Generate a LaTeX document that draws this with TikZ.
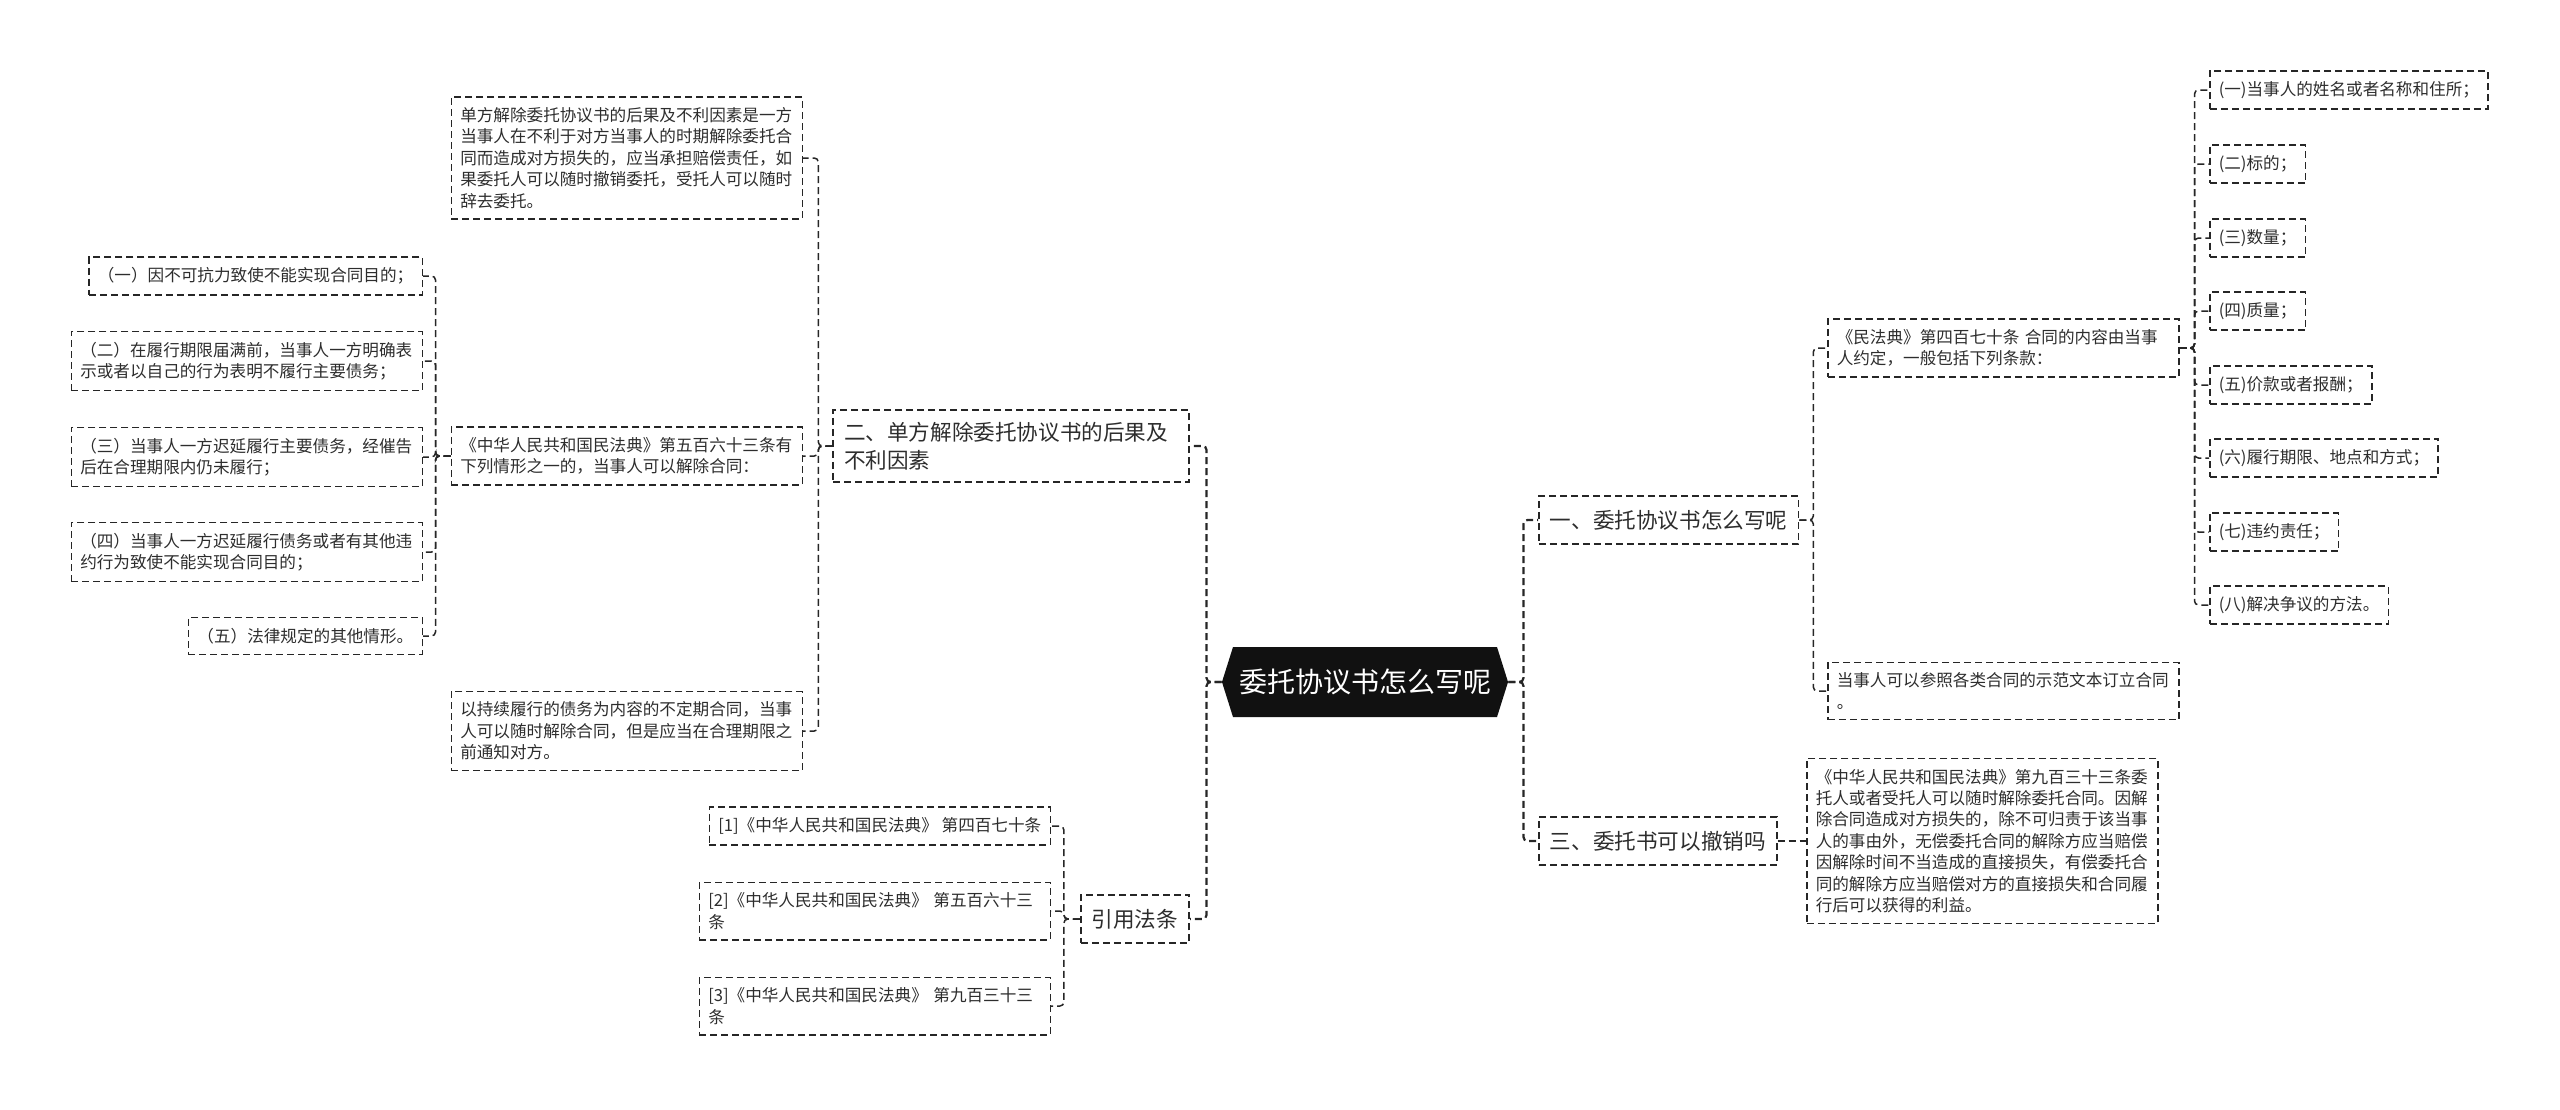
\documentclass[tikz,border=0pt]{standalone}
\usepackage{fontspec}
\setmainfont{Noto Sans CJK SC}
\usepackage{tikz}
\usetikzlibrary{shapes.symbols, positioning}
\usepackage{xcolor}
\definecolor{inkline}{RGB}{38,38,38}
\definecolor{inktext}{RGB}{45,45,45}
\definecolor{rootfill}{RGB}{17,17,17}

\begin{document}
\begin{tikzpicture}[
    x=0.5pt, y=-0.5pt,
    leaf/.style={draw=inkline, line width=0.75pt, dash pattern=on 3.5pt off 2pt,
                 inner xsep=4.5pt, inner ysep=5.2pt, minimum height=18.5pt,
                 align=left, text=inktext,
                 font=\fontsize{8.3pt}{10.7pt}\selectfont},
    para/.style={leaf, text width=#1},
    topic/.style={draw=inkline, line width=0.85pt, dash pattern=on 3.5pt off 2pt,
                  inner xsep=5.5pt, inner ysep=6pt, minimum height=24pt,
                  align=left, text=inktext,
                  font=\fontsize{10.8pt}{14pt}\selectfont},
    root/.style={signal, signal to=west and east, signal pointer angle=145,
                 fill=rootfill, text=white, inner xsep=3pt, minimum height=35pt,
                 font=\fontsize{14pt}{16pt}\selectfont},
    link/.style={draw=inkline, line width=0.75pt, dash pattern=on 3.5pt off 2pt,
                 rounded corners=2pt},
    trunk/.style={link, line width=1.1pt},
  ]
    \useasboundingbox (0,0) rectangle (2560,1109);

    \node[root] (root) at (1365,682) {委托协议书怎么写呢};

    % left branch
    \node[topic, text width=167pt, anchor=east] (unilat) at (1190,446) {二、单方解除委托协议书的后果及\\不利因素};
    \node[topic, anchor=east] (cite) at (1190,919) {引用法条};

    \node[para=166.5pt, anchor=east] (conseq) at (803,158) {单方解除委托协议书的后果及不利因素是一方\\当事人在不利于对方当事人的时期解除委托合\\同而造成对方损失的，应当承担赔偿责任，如\\果委托人可以随时撤销委托，受托人可以随时\\辞去委托。};
    \node[para=166.5pt, anchor=east] (art563) at (803,456) {《中华人民共和国民法典》第五百六十三条有\\下列情形之一的，当事人可以解除合同：};
    \node[para=166.5pt, anchor=east] (indef) at (803,731) {以持续履行的债务为内容的不定期合同，当事\\人可以随时解除合同，但是应当在合理期限之\\前通知对方。};

    \node[leaf, anchor=east] (ground1) at (423,276) {（一）因不可抗力致使不能实现合同目的；};
    \node[para=166.5pt, anchor=east] (ground2) at (423,361) {（二）在履行期限届满前，当事人一方明确表\\示或者以自己的行为表明不履行主要债务；};
    \node[para=166.5pt, anchor=east] (ground3) at (423,457) {（三）当事人一方迟延履行主要债务，经催告\\后在合理期限内仍未履行；};
    \node[para=166.5pt, anchor=east] (ground4) at (423,552) {（四）当事人一方迟延履行债务或者有其他违\\约行为致使不能实现合同目的；};
    \node[leaf, anchor=east] (ground5) at (423,636) {（五）法律规定的其他情形。};

    \node[leaf, anchor=east] (ref1) at (1051,826) {[1]《中华人民共和国民法典》 第四百七十条};
    \node[para=166.5pt, anchor=east] (ref2) at (1051,911) {[2]《中华人民共和国民法典》 第五百六十三\\条};
    \node[para=166.5pt, anchor=east] (ref3) at (1051,1006) {[3]《中华人民共和国民法典》 第九百三十三\\条};

    % right branch
    \node[topic, anchor=west] (howto) at (1538,520) {一、委托协议书怎么写呢};
    \node[topic, anchor=west] (revoke) at (1538,841) {三、委托书可以撤销吗};

    \node[para=166.5pt, anchor=west] (art470) at (1827,348) {《民法典》第四百七十条 合同的内容由当事\\人约定，一般包括下列条款：};
    \node[para=166.5pt, anchor=west] (model) at (1827,691) {当事人可以参照各类合同的示范文本订立合同\\。};
    \node[para=166.5pt, anchor=west] (art933) at (1806,841) {《中华人民共和国民法典》第九百三十三条委\\托人或者受托人可以随时解除委托合同。因解\\除合同造成对方损失的，除不可归责于该当事\\人的事由外，无偿委托合同的解除方应当赔偿\\因解除时间不当造成的直接损失，有偿委托合\\同的解除方应当赔偿对方的直接损失和合同履\\行后可以获得的利益。};

    \node[leaf, anchor=west] (term1) at (2209,90) {(一)当事人的姓名或者名称和住所；};
    \node[leaf, anchor=west] (term2) at (2209,164) {(二)标的；};
    \node[leaf, anchor=west] (term3) at (2209,238) {(三)数量；};
    \node[leaf, anchor=west] (term4) at (2209,311) {(四)质量；};
    \node[leaf, anchor=west] (term5) at (2209,385) {(五)价款或者报酬；};
    \node[leaf, anchor=west] (term6) at (2209,458) {(六)履行期限、地点和方式；};
    \node[leaf, anchor=west] (term7) at (2209,532) {(七)违约责任；};
    \node[leaf, anchor=west] (term8) at (2209,605) {(八)解决争议的方法。};

    \draw[trunk] (root.west) -- ++(-15,0) |- (unilat.east);
    \draw[trunk] (root.west) -- ++(-15,0) |- (cite.east);
    \draw[trunk] (root.east) -- ++(15,0) |- (howto.west);
    \draw[trunk] (root.east) -- ++(15,0) |- (revoke.west);

    \draw[link] (unilat.west) -- ++(-14,0) |- (conseq.east);
    \draw[link] (unilat.west) -- ++(-14,0) |- (art563.east);
    \draw[link] (unilat.west) -- ++(-14,0) |- (indef.east);

    \draw[link] (art563.west) -- ++(-15,0) |- (ground1.east);
    \draw[link] (art563.west) -- ++(-15,0) |- (ground2.east);
    \draw[link] (art563.west) -- ++(-15,0) |- (ground3.east);
    \draw[link] (art563.west) -- ++(-15,0) |- (ground4.east);
    \draw[link] (art563.west) -- ++(-15,0) |- (ground5.east);

    \draw[link] (cite.west) -- ++(-16,0) |- (ref1.east);
    \draw[link] (cite.west) -- ++(-16,0) |- (ref2.east);
    \draw[link] (cite.west) -- ++(-16,0) |- (ref3.east);

    \draw[link] (howto.east) -- ++(14,0) |- (art470.west);
    \draw[link] (howto.east) -- ++(14,0) |- (model.west);
    \draw[link] (revoke.east) -- (art933.west);

    \draw[link] (art470.east) -- ++(15,0) |- (term1.west);
    \draw[link] (art470.east) -- ++(15,0) |- (term2.west);
    \draw[link] (art470.east) -- ++(15,0) |- (term3.west);
    \draw[link] (art470.east) -- ++(15,0) |- (term4.west);
    \draw[link] (art470.east) -- ++(15,0) |- (term5.west);
    \draw[link] (art470.east) -- ++(15,0) |- (term6.west);
    \draw[link] (art470.east) -- ++(15,0) |- (term7.west);
    \draw[link] (art470.east) -- ++(15,0) |- (term8.west);
  \end{tikzpicture}
\end{document}
